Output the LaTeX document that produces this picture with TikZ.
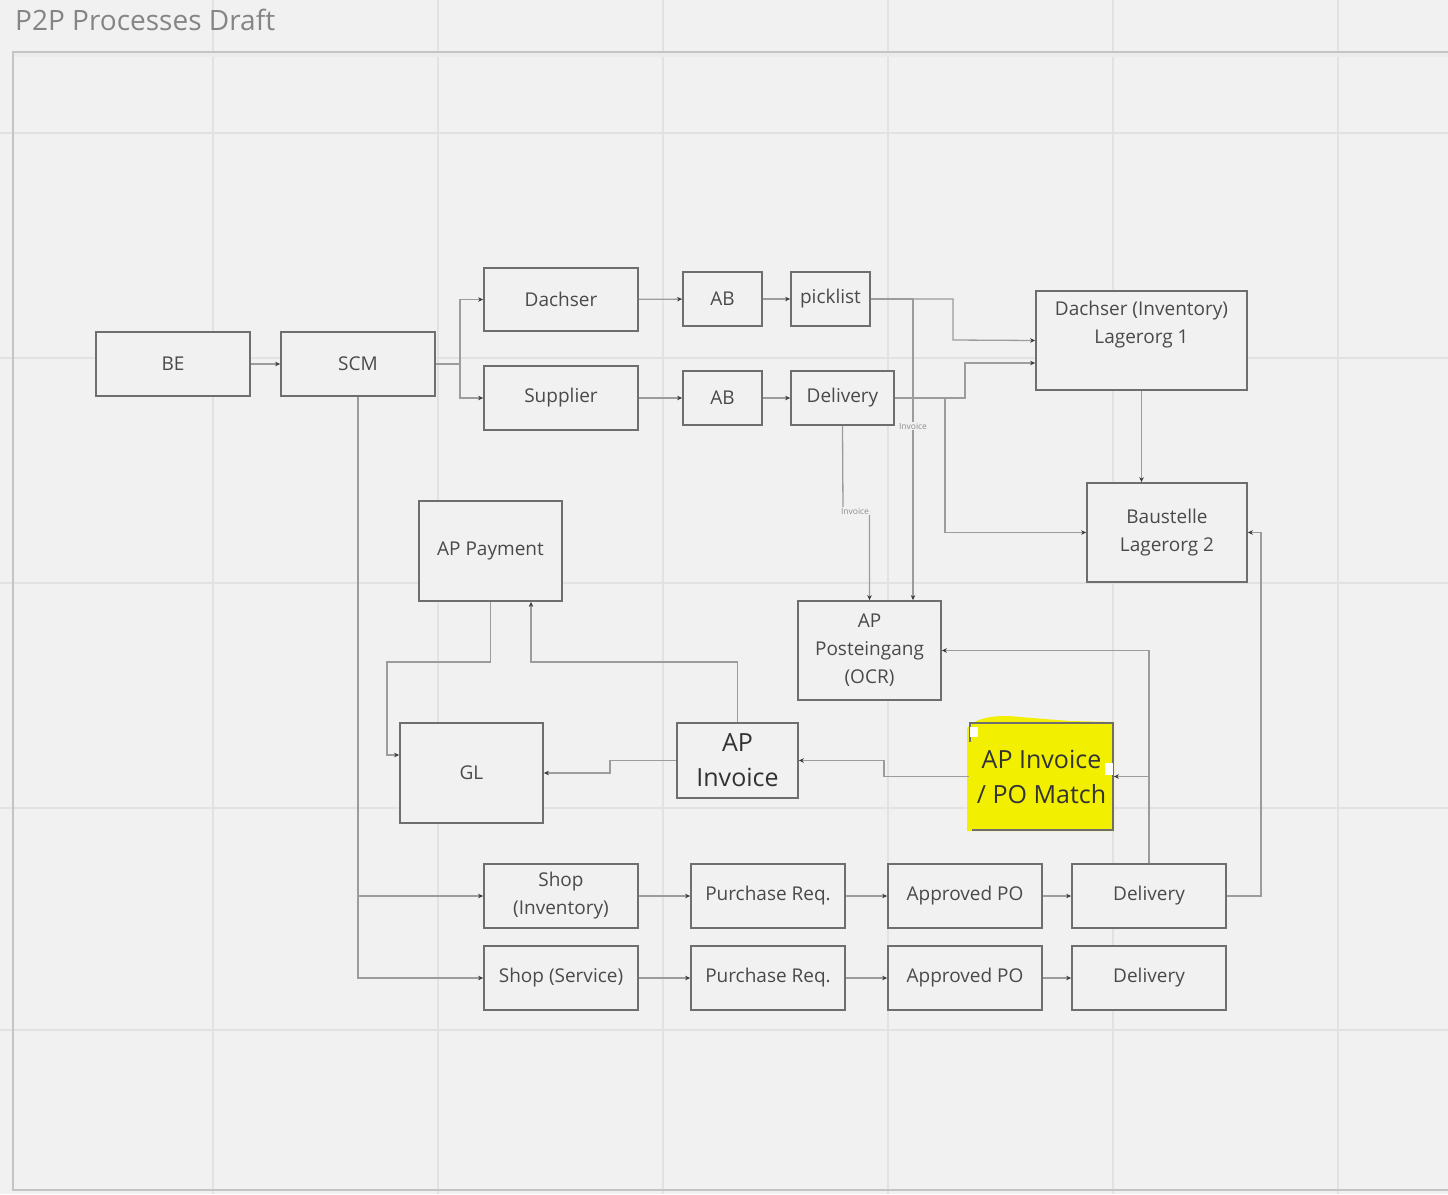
\documentclass[tikz,border=0pt]{standalone}
\usepackage{fontspec}
\setmainfont{Open Sans}
\usetikzlibrary{arrows.meta,calc}
\definecolor{bgc}{HTML}{F1F1F1}
\definecolor{gridc}{HTML}{E2E2E2}
\definecolor{framec}{HTML}{C4C4C4}
\definecolor{boxc}{HTML}{6E6E6E}
\definecolor{linec}{HTML}{9C9C9C}
\definecolor{arrc}{HTML}{3A3A3A}
\definecolor{txtc}{HTML}{4A4A4A}
\definecolor{titlec}{HTML}{858585}
\definecolor{hlc}{HTML}{F2F000}
\tikzset{
  procbox/.style={draw=boxc, line width=1.8pt, fill=bgc, text=txtc, align=center, inner sep=0pt,
    font=\fontsize{19}{28}\selectfont},
  bigtxt/.style={font=\fontsize{25}{35}\selectfont, text=black!80},
  conn/.style={draw=linec, line width=1.3pt, -{Stealth[length=5pt,width=4.5pt,color=arrc]}},
  tinylbl/.style={font=\fontsize{8.5}{10}\selectfont, text=black!45, fill=bgc, inner sep=1pt},
}
\begin{document}
\begin{tikzpicture}[x=1pt,y=-1pt]
\useasboundingbox (0,0) rectangle (1448,1194);
\fill[bgc] (0,0) rectangle (1448,1194);
% grid
\foreach \gx in {213,438,663,888,1113,1338} \draw[gridc, line width=1.6pt] (\gx,0) -- (\gx,1194);
\foreach \gy in {133,358,583,808,1030} \draw[gridc, line width=1.6pt] (0,\gy) -- (1448,\gy);
% frame
\draw[black!8, line width=4pt] (14,55) -- (1460,55);
\draw[framec, line width=2pt] (1460,52) -- (13,52) -- (13,1190) -- (1460,1190);
\node[anchor=west, text=titlec, font=\fontsize{28}{32}\selectfont, inner sep=0pt] (title) at (15,20) {P2P Processes Draft};

% nodes
\node[procbox, minimum width=154, minimum height=64] (BE) at (173,364) {BE};
\node[procbox, minimum width=154, minimum height=64] (SCM) at (358,364) {SCM};
\node[procbox, minimum width=154, minimum height=63] (Dachser) at (561,299.5) {Dachser};
\node[procbox, minimum width=154, minimum height=64] (Supplier) at (561,398) {Supplier};
\node[procbox, minimum width=79, minimum height=54] (AB1) at (722.5,299) {AB};
\node[procbox, minimum width=79, minimum height=54] (AB2) at (722.5,398) {AB};
\node[procbox, minimum width=79, minimum height=54] (pick) at (830.5,299) {picklist};
\node[procbox, minimum width=103, minimum height=54] (del0) at (842.5,398) {Delivery};
\node[procbox, minimum width=211, minimum height=99] (inv1) at (1141.5,340.5) {};
\node[text=txtc, align=center, font=\fontsize{19}{28}\selectfont, inner sep=0pt] (inv1t) at (1141.5,325) {Dachser (Inventory)\\Lagerorg 1};
\node[procbox, minimum width=160, minimum height=99] (bau) at (1167,532.5) {Baustelle\\Lagerorg 2};
\node[procbox, minimum width=143, minimum height=100] (appay) at (490.5,551) {AP Payment};
\node[procbox, minimum width=143, minimum height=99] (appost) at (869.5,650.5) {AP\\Posteingang\\(OCR)};
\node[procbox, minimum width=143, minimum height=100] (GL) at (471.5,773) {GL};
\node[procbox, bigtxt, minimum width=121, minimum height=75] (apinv) at (737.5,760.5) {AP\\Invoice};
% highlight
\fill[hlc] (967,831) -- (967,728) .. controls (975,718) and (995,714) .. (1020,717) -- (1070,721) -- (1114,722) -- (1114,831) -- cycle;
\node[procbox, bigtxt, fill=hlc, minimum width=143, minimum height=107] (match) at (1041.5,776.5) {AP Invoice\\/ PO Match};
\fill[hlc] (967,742) rectangle (972,831);
\fill[white] (970,727) rectangle (978,737);
\fill[white] (1105,763) rectangle (1113,775);

\node[procbox, minimum width=154, minimum height=64] (shopI) at (561,896) {Shop\\(Inventory)};
\node[procbox, minimum width=154, minimum height=64] (pr1) at (768,896) {Purchase Req.};
\node[procbox, minimum width=154, minimum height=64] (apo1) at (965,896) {Approved PO};
\node[procbox, minimum width=154, minimum height=64] (del1) at (1149,896) {Delivery};
\node[procbox, minimum width=154, minimum height=64] (shopS) at (561,978) {Shop (Service)};
\node[procbox, minimum width=154, minimum height=64] (pr2) at (768,978) {Purchase Req.};
\node[procbox, minimum width=154, minimum height=64] (apo2) at (965,978) {Approved PO};
\node[procbox, minimum width=154, minimum height=64] (del2) at (1149,978) {Delivery};

% connectors
\draw[conn] (BE) -- (SCM);
\draw[conn] (SCM.east) -- (460,364) |- (Dachser.west);
\draw[conn] (SCM.east) -- (460,364) |- (Supplier.west);
\draw[conn] (Dachser) -- (AB1);
\draw[conn] (AB1) -- (pick);
\draw[conn] (Supplier) -- (AB2);
\draw[conn] (AB2) -- (del0);
\draw[conn] (pick.east) -| (953,340) -- (inv1.west);
\draw[conn] (del0.east) -| (965,363) -- (inv1.west |- 0,363);
\draw[conn] (del0.east) -- (945,398) |- (bau.west);
\draw[conn] (pick.east) -- (913,299) -- (appost.north -| 913,0);
\node[tinylbl] (invl1) at (913,426) {Invoice};
\draw[conn] (del0.south) -- (843,511) -| (appost.north);
\node[tinylbl] (invl2) at (855,511) {Invoice};
\draw[conn] (inv1.south) -- (inv1.south |- bau.north);
\draw[conn] (del1.east) -- (1261,896) |- (bau.east);
\draw[conn] (del1.north) |- (appost.east);
\draw[conn] (del1.north) |- (match.east);
\draw[conn] (match.west) -- (884,776.5) |- (apinv.east);
\draw[conn] (apinv.west) -- (610,760.5) |- (GL.east);
\draw[conn] (apinv.north) -- (737.5,662) -| (appay.south -| 531,0);
\draw[conn] (appay.south) -- (490.5,662) -| (387,755) -- (GL.west |- 0,755);
\draw[conn] (SCM.south) |- (shopI.west);
\draw[conn] (SCM.south) |- (shopS.west);
\draw[conn] (shopI) -- (pr1);
\draw[conn] (pr1) -- (apo1);
\draw[conn] (apo1) -- (del1);
\draw[conn] (shopS) -- (pr2);
\draw[conn] (pr2) -- (apo2);
\draw[conn] (apo2) -- (del2);
\end{tikzpicture}
\end{document}
